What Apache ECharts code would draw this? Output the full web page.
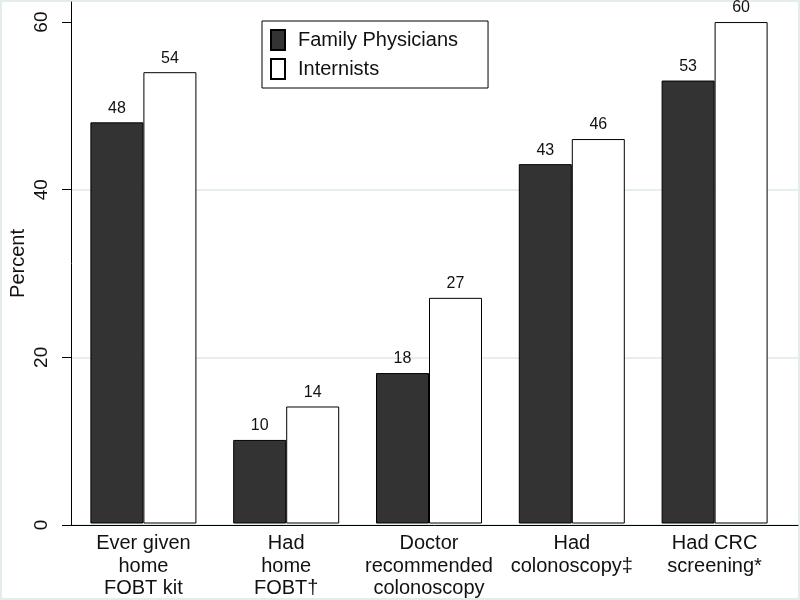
<!DOCTYPE html>
<html><head><meta charset="utf-8">
<script src="https://cdn.jsdelivr.net/npm/echarts@6/dist/echarts.min.js"></script>
<style>html,body{margin:0;padding:0;background:#fff}#c{width:800px;height:600px}</style>
</head><body><div id="c"></div>
<script>
const categories = ["Ever given\nhome\nFOBT kit", "Had\nhome\nFOBT\u2020", "Doctor\nrecommended\ncolonoscopy", "Had\ncolonoscopy\u2021", "Had CRC\nscreening*"];
const familyPhysicians = [48, 10, 18, 43, 53];
const internists = [54, 14, 27, 46, 60];
const yTicks = [0, 20, 40, 60];
const seriesNames = ["Family Physicians", "Internists"];

const FONT = "Liberation Sans, Arial, sans-serif";
const Y_MAX = 62.4;
const chart = echarts.init(document.getElementById('c'));
const labelCfg = {show: true, position: 'top', distance: 6, fontFamily: FONT, fontSize: 16, color: '#111'};
chart.setOption({
  backgroundColor: '#fff',
  animation: false,
  graphic: [{type: 'rect', shape: {x: 1, y: 1, width: 798, height: 598}, style: {fill: 'none', stroke: '#e4ecee', lineWidth: 2}, silent: true}],
  legend: {
    orient: 'vertical', left: 262, top: 21,
    data: seriesNames,
    itemWidth: 14, itemHeight: 20, itemGap: 7,
    padding: [8, 30, 8, 8],
    borderColor: '#000', borderWidth: 1, backgroundColor: '#fff',
    textStyle: {fontFamily: FONT, fontSize: 20, color: '#111', padding: [0, 0, 0, 8]},
    icon: 'rect'
  },
  grid: [
    {left: 59, right: 2, top: 2, bottom: 75},
    {left: 72, right: 14, top: 2, bottom: 75}
  ],
  xAxis: [
    {type: 'value', gridIndex: 0, min: 0, max: 1, axisLine: {show: true, onZero: false, lineStyle: {color: '#000', width: 1}}, axisTick: {show: false}, axisLabel: {show: false}, splitLine: {show: false}},
    {type: 'category', gridIndex: 1, data: categories, axisLine: {show: false}, axisTick: {show: false},
     axisLabel: {fontFamily: FONT, fontSize: 20, color: '#111', lineHeight: 22.5, margin: 9, interval: 0}}
  ],
  yAxis: [
    {type: 'value', gridIndex: 0, position: 'left', min: 0, max: Y_MAX, interval: 20,
     name: 'Percent', nameLocation: 'middle', nameGap: 53, nameRotate: 90,
     nameTextStyle: {fontFamily: FONT, fontSize: 20, color: '#111', verticalAlign: 'middle'},
     axisLine: {show: true, onZero: false, lineStyle: {color: '#000', width: 1}},
     axisTick: {show: true, length: 9, lineStyle: {color: '#000'}, customValues: yTicks},
     axisLabel: {show: false},
     splitLine: {show: true, showMaxLine: false, lineStyle: {color: '#e6eef0', width: 2}}},
    {type: 'value', gridIndex: 1, min: 0, max: Y_MAX, show: false, splitLine: {show: false}},
    {type: 'value', gridIndex: 0, position: 'left', offset: 9, min: 0, max: Y_MAX, interval: 20,
     axisLine: {show: false}, axisTick: {show: false}, splitLine: {show: false},
     axisLabel: {rotate: 90, margin: 20, verticalAlign: 'middle', align: 'center', fontFamily: FONT, fontSize: 19, color: '#111', customValues: yTicks}}
  ],
  series: [
    {name: seriesNames[0], type: 'bar', xAxisIndex: 1, yAxisIndex: 1, data: familyPhysicians, barWidth: 53, barGap: '0%',
     itemStyle: {color: '#333333', borderColor: '#000', borderWidth: 1}, label: labelCfg},
    {name: seriesNames[1], type: 'bar', xAxisIndex: 1, yAxisIndex: 1, data: internists, barWidth: 53, barGap: '0%',
     itemStyle: {color: '#ffffff', borderColor: '#000', borderWidth: 1}, label: labelCfg}
  ]
});
</script></body></html>
